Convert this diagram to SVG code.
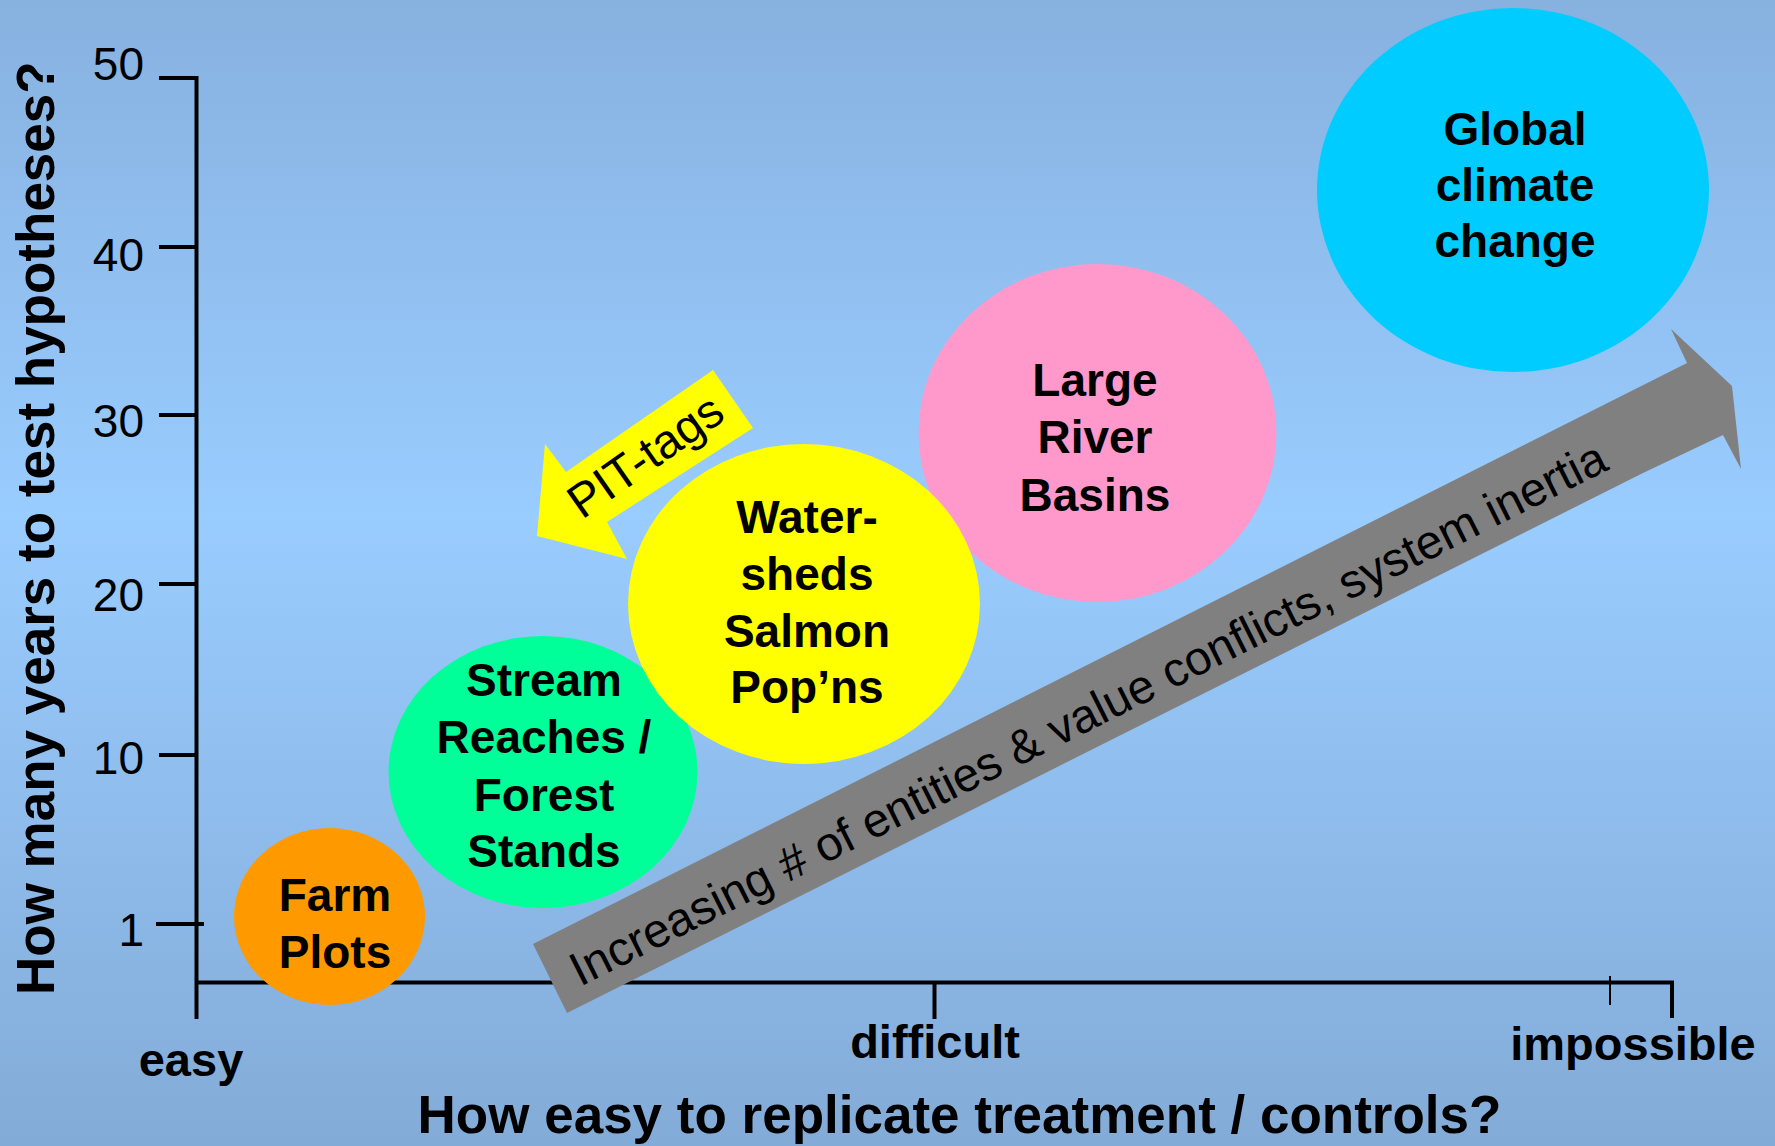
<svg xmlns="http://www.w3.org/2000/svg" width="1775" height="1146" viewBox="0 0 1775 1146">
  <defs>
    <linearGradient id="bg" x1="0" y1="0" x2="0" y2="1">
      <stop offset="0" stop-color="#87B1DF"/>
      <stop offset="0.45" stop-color="#99CCFF"/>
      <stop offset="1" stop-color="#83ABD7"/>
    </linearGradient>
    <style>
      .axis { stroke: #000; stroke-width: 4; fill: none; }
      .thin { stroke: #000; stroke-width: 2; fill: none; }
      .num { font-family: "Liberation Sans", Arial, sans-serif; font-size: 46px; fill: #000; text-anchor: end; }
      .lab { font-family: "Liberation Sans", Arial, sans-serif; font-size: 47px; font-weight: bold; fill: #000; text-anchor: middle; }
      .title { font-family: "Liberation Sans", Arial, sans-serif; font-size: 53px; font-weight: bold; fill: #000; }
      .node { font-family: "Liberation Sans", Arial, sans-serif; font-size: 46px; font-weight: bold; fill: #000; text-anchor: middle; }
      .arrowtext { font-family: "Liberation Sans", Arial, sans-serif; font-size: 47.6px; fill: #000; }
    </style>
  </defs>
  <rect x="0" y="0" width="1775" height="1146" fill="url(#bg)"/>

  <g id="axes">
    <line class="axis" x1="196.5" y1="76" x2="196.5" y2="1019"/>
    <line class="axis" x1="159" y1="78" x2="197" y2="78"/>
    <line class="axis" x1="159" y1="247" x2="197" y2="247"/>
    <line class="axis" x1="159" y1="415" x2="197" y2="415"/>
    <line class="axis" x1="159" y1="584" x2="197" y2="584"/>
    <line class="axis" x1="159" y1="755" x2="197" y2="755"/>
    <line class="axis" x1="156" y1="924" x2="204" y2="924"/>
    <polyline class="axis" points="196.5,982.5 1672,982.5 1672,1018"/>
    <line class="axis" x1="934.5" y1="982" x2="934.5" y2="1019"/>
    <line class="thin" x1="1610" y1="976" x2="1610" y2="1005"/>
    <text class="num" x="144" y="80">50</text>
    <text class="num" x="144" y="271">40</text>
    <text class="num" x="144" y="437">30</text>
    <text class="num" x="144" y="611">20</text>
    <text class="num" x="144" y="774">10</text>
    <text class="num" x="144" y="946">1</text>
    <text class="lab" x="191" y="1076">easy</text>
    <text class="lab" x="935" y="1058">difficult</text>
    <text class="lab" x="1633" y="1060">impossible</text>
    <text class="title" x="959.5" y="1133" text-anchor="middle">How easy to replicate treatment / controls?</text>
    <text class="title" transform="translate(54,995) rotate(-90)">How many years to test hypotheses?</text>
  </g>

  <g id="connectors">
    <g id="gray-arrow">
      <polygon points="567,1013 533,944 1687,363 1671,329 1732,386 1741,469 1723,435 1643,473" fill="#808080"/>
      <text class="arrowtext" transform="translate(580,987) rotate(-26.7)">Increasing # of entities &amp; value conflicts, system inertia</text>
    </g>
    <g id="pit-tags-arrow">
      <polygon points="713,370 753,428 607,522 627,559 537,536 545,444 566,472" fill="#FFFF00"/>
      <text class="arrowtext" font-size="44" transform="translate(582,520) rotate(-35)">PIT-tags</text>
    </g>
  </g>

  <g id="farm-plots">
    <ellipse cx="329.5" cy="916.5" rx="95.5" ry="88.5" fill="#FF9900"/>
    <text class="node" x="335" y="911">Farm</text>
    <text class="node" x="335" y="968">Plots</text>
  </g>
  <g id="stream-reaches">
    <ellipse cx="543" cy="772" rx="154.5" ry="136" fill="#00FF99"/>
    <text class="node" x="544" y="696">Stream</text>
    <text class="node" x="544" y="753">Reaches /</text>
    <text class="node" x="544" y="811">Forest</text>
    <text class="node" x="544" y="867">Stands</text>
  </g>
  <g id="large-river-basins">
    <ellipse cx="1097.5" cy="433" rx="179" ry="169" fill="#FF99CC"/>
    <text class="node" x="1095" y="396">Large</text>
    <text class="node" x="1095" y="453">River</text>
    <text class="node" x="1095" y="511">Basins</text>
  </g>
  <g id="watersheds">
    <ellipse cx="804" cy="604" rx="176" ry="160" fill="#FFFF00"/>
    <text class="node" x="807" y="533">Water-</text>
    <text class="node" x="807" y="590">sheds</text>
    <text class="node" x="807" y="647">Salmon</text>
    <text class="node" x="807" y="703">Pop’ns</text>
  </g>
  <g id="global-climate-change">
    <ellipse cx="1513" cy="190" rx="196" ry="182" fill="#00CCFF"/>
    <text class="node" x="1515" y="145">Global</text>
    <text class="node" x="1515" y="201">climate</text>
    <text class="node" x="1515" y="257">change</text>
  </g>
</svg>
